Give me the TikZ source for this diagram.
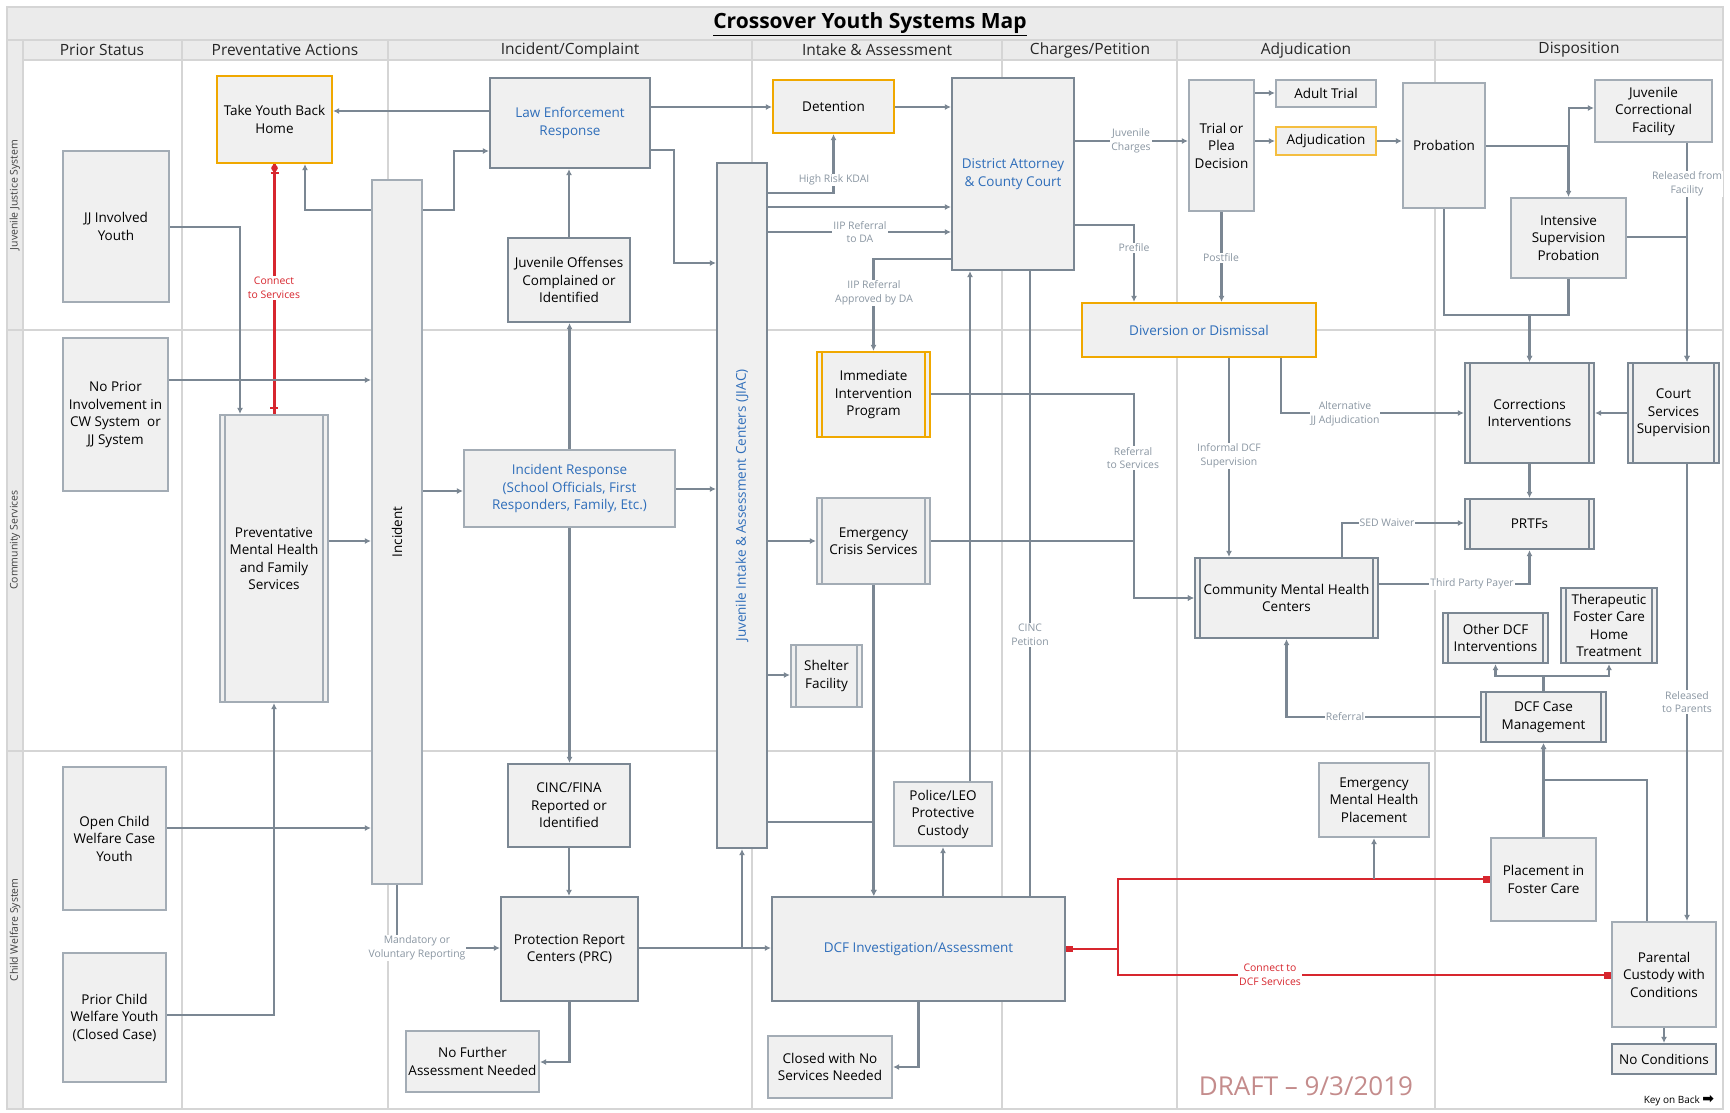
\documentclass[tikz,border=0pt]{standalone}
\usepackage{fontspec}
\setmainfont{Open Sans}
\newfontfamily\symfont{DejaVu Sans}
\usetikzlibrary{arrows.meta}
\definecolor{boxfill}{HTML}{F0F0F0}
\definecolor{headfill}{HTML}{EBEBEB}
\definecolor{dkedge}{HTML}{7B8793}
\definecolor{ltedge}{HTML}{A3ACB5}
\definecolor{orng}{HTML}{F0A800}
\definecolor{bluetxt}{HTML}{2F6EBA}
\definecolor{labgray}{HTML}{8A96A2}
\definecolor{redc}{HTML}{D7262E}
\definecolor{gridc}{HTML}{D5D5D5}
\definecolor{draftc}{HTML}{C48C8C}
\newcommand{\bodyfs}{\fontsize{13.5}{17.5}\selectfont}
\newcommand{\labfs}{\fontsize{10.4}{13.5}\selectfont}
\begin{document}
\begin{tikzpicture}[x=1pt, y=-1pt,
    box/.style={draw=dkedge, line width=2.2pt, fill=boxfill, align=center, inner sep=1pt, font=\bodyfs},
    lbox/.style={box, draw=ltedge},
    obox/.style={box, draw=orng},
    sz/.style 2 args={minimum width=#1, minimum height=#2},
    dbl/.style={path picture={
        \draw[draw=#1, line width=1.8pt]
            ([xshift=5pt]path picture bounding box.north west) -- ([xshift=5pt]path picture bounding box.south west)
            ([xshift=-5pt]path picture bounding box.north east) -- ([xshift=-5pt]path picture bounding box.south east);}},
    dbl/.default=dkedge,
    btxt/.style={text=bluetxt},
    arr/.style={draw=dkedge, line width=2.2pt, -{Latex[length=6pt,width=6pt]}},
    plain/.style={draw=dkedge, line width=2.2pt},
    rline/.style={draw=redc, line width=2.2pt},
    lab/.style={font=\labfs, text=labgray, fill=white, inner sep=1pt, align=center},
    rlab/.style={lab, text=redc},
    laneline/.style={draw=gridc, line width=2.5pt},
    colhead/.style={font=\fontsize{15.5}{18}\selectfont, text=black!85},
    lanelab/.style={font=\fontsize{10.5}{12}\selectfont, text=black!75, rotate=90}]
            \useasboundingbox (0,0) rectangle (1730,1112);

            % frame, title and swimlanes
            \fill[headfill] (7,7) rectangle (1723,60);
            \fill[headfill] (7,60) rectangle (23,1109);
            \draw[laneline] (7,7) rectangle (1723,1109);
            \draw[laneline] (7,40) -- (1723,40);
            \draw[laneline] (23,60) -- (1723,60);
            \draw[laneline] (23,40) -- (23,1109);
            \draw[laneline] (7,330) -- (1723,330);
            \draw[laneline] (7,751) -- (1723,751);
            \foreach \x in {182,388,752,1002,1177,1435}
                \draw[laneline] (\x,40) -- (\x,1109);
            \node [font=\fontsize{21}{25}\selectfont\bfseries] (title) at (870,24) {\underline{Crossover Youth Systems Map}};
            \foreach \cx/\txt in {102/{Prior Status}, 285/{Preventative Actions}, 570/{Incident/Complaint}, 877/{Intake \& Assessment}, 1090/{Charges/Petition}, 1306/{Adjudication}, 1579/{Disposition}}
                \node [colhead] (head-\cx) at (\cx,50) {\txt};
            \node [lanelab] (laneJJ) at (15,195) {Juvenile Justice System};
            \node [lanelab] (laneCS) at (15,540) {Community Services};
            \node [lanelab] (laneCW) at (15,930) {Child Welfare System};

            % juvenile justice lane
            \node [obox, sz={115}{87}] (TYBH) at (274.5,119.5) {Take Youth Back\\Home};
            \node [lbox, sz={106}{151}] (JJY) at (116,226.5) {JJ Involved\\Youth};
            \node [box, btxt, sz={160}{90}] (LE) at (570,123) {Law Enforcement\\Response};
            \node [box, sz={122}{84}] (JO) at (569,280) {Juvenile Offenses\\Complained or\\Identified};
            \node [obox, sz={121}{53}] (DET) at (833.5,106.5) {Detention};
            \node [box, btxt, sz={122}{192}] (DA) at (1013,174) {District Attorney\\\& County Court};
            \node [lbox, sz={65}{131}] (TPD) at (1221.5,145.5) {Trial or\\Plea\\Decision};
            \node [lbox, sz={100}{27}] (ADT) at (1326,93.5) {Adult Trial};
            \node [obox, draw=orng!75, sz={100}{28}] (ADJ) at (1326,141) {Adjudication};
            \node [lbox, sz={82}{125}] (PROB) at (1444,145.5) {Probation};
            \node [lbox, sz={117}{62}] (JCF) at (1653.5,111) {Juvenile\\Correctional\\Facility};
            \node [lbox, sz={115}{80}] (ISP) at (1568.5,238) {Intensive\\Supervision\\Probation};
            \node [obox, btxt, sz={234}{54}] (DIV) at (1199,330) {Diversion or Dismissal};

            % tall bars
            \node [lbox, sz={50}{704}] (INC) at (397,532) {};
            \node [font=\bodyfs, rotate=90] (INClab) at (INC.center) {Incident};
            \node [box, sz={50}{685}] (JIAC) at (742,505.5) {};
            \node [font=\bodyfs, btxt, rotate=90] (JIAClab) at (JIAC.center) {Juvenile Intake \& Assessment Centers (JIAC)};

            % community services lane
            \node [lbox, sz={105}{153}] (NP) at (115.5,414.5) {No Prior\\Involvement in\\CW System ~or\\JJ System};
            \node [lbox, dbl=ltedge, sz={108}{287}] (PMH) at (274,558.5) {Preventative\\Mental Health\\and Family\\Services};
            \node [lbox, btxt, sz={211}{77}] (IR) at (569.5,488.5) {Incident Response\\(School Officials, First\\Responders, Family, Etc.)};
            \node [obox, dbl=orng, sz={113}{85}] (IIP) at (873.5,394.5) {Immediate\\Intervention\\Program};
            \node [lbox, dbl=ltedge, sz={113}{86}] (ECS) at (873.5,541) {Emergency\\Crisis Services};
            \node [lbox, dbl=ltedge, sz={71}{62}] (SHF) at (826.5,676) {Shelter\\Facility};
            \node [box, dbl, sz={183}{80}] (CMHC) at (1286.5,598) {Community Mental Health\\Centers};
            \node [box, dbl, sz={129}{100}] (COR) at (1529.5,413) {Corrections\\Interventions};
            \node [box, dbl, sz={91}{100}] (CSS) at (1673.5,413) {Court\\Services\\Supervision};
            \node [box, dbl, sz={129}{50}] (PRTF) at (1529.5,524) {PRTFs};
            \node [box, dbl, sz={105}{50}] (ODI) at (1495.5,638) {Other DCF\\Interventions};
            \node [box, dbl, sz={96}{75}] (TFC) at (1609,625.5) {Therapeutic\\Foster Care\\Home\\Treatment};
            \node [box, dbl, sz={125}{50}] (DCM) at (1543.5,717) {DCF Case\\Management};

            % child welfare lane
            \node [lbox, sz={103}{143}] (OCW) at (114.5,838.5) {Open Child\\Welfare Case\\Youth};
            \node [lbox, sz={103}{129}] (PCW) at (114.5,1017.5) {Prior Child\\Welfare Youth\\(Closed Case)};
            \node [box, sz={122}{83}] (CINC) at (569,805.5) {CINC/FINA\\Reported or\\Identified};
            \node [box, sz={137}{104}] (PRC) at (569.5,949) {Protection Report\\Centers (PRC)};
            \node [lbox, sz={133}{61}] (NFA) at (472.5,1061.5) {No Further\\Assessment Needed};
            \node [lbox, sz={98}{64}] (POL) at (943,814) {Police/LEO\\Protective\\Custody};
            \node [box, btxt, sz={293}{104}] (DCFI) at (918.5,949) {DCF Investigation/Assessment};
            \node [lbox, sz={124}{62}] (CLS) at (830,1067) {Closed with No\\Services Needed};
            \node [lbox, sz={110}{74}] (EMH) at (1374,800) {Emergency\\Mental Health\\Placement};
            \node [lbox, sz={105}{83}] (PFC) at (1543.5,879.5) {Placement in\\Foster Care};
            \node [lbox, sz={104}{105}] (PCC) at (1664,974.5) {Parental\\Custody with\\Conditions};
            \node [box, sz={104}{30}] (NOC) at (1664,1059) {No Conditions};

            % connectors, juvenile justice
            \draw[arr] (LE.west |- 0,111) -- (TYBH.east |- 0,111);
            \draw[arr] (INC.west |- 0,210) -| (TYBH.south -| 305,0);
            \draw[arr] (INC.east |- 0,210) -| (454,151) -- (LE.west |- 0,151);
            \draw[arr] (LE.east |- 0,107) -- (DET.west |- 0,107);
            \draw[arr] (DET.east |- 0,107) -- (DA.west |- 0,107);
            \draw[arr] (LE.east |- 0,150) -- (674,150) |- (JIAC.west |- 0,263);
            \draw[arr] (JIAC.east |- 0,193) -| (DET.south);
            \draw[arr] (JIAC.east |- 0,207) -- (DA.west |- 0,207);
            \draw[arr] (JIAC.east |- 0,232) -- (DA.west |- 0,232);
            \draw[arr] (DA.west |- 0,259) -| (IIP.north);
            \draw[arr] (DA.east |- 0,141) -- (TPD.west |- 0,141);
            \draw[arr] (DA.east |- 0,225) -| (DIV.north -| 1134,0);
            \draw[arr] (TPD.east |- 0,93) -- (ADT.west |- 0,93);
            \draw[arr] (TPD.east |- 0,141) -- (ADJ.west |- 0,141);
            \draw[arr] (ADJ.east |- 0,141) -- (PROB.west |- 0,141);
            \draw[arr] (TPD.south) -- (TPD.south |- DIV.north);
            \draw[arr] (PROB.east |- 0,146) -- (1569,146) |- (JCF.west |- 0,108);
            \draw[arr] (PROB.east |- 0,146) -| (ISP.north);
            \draw[arr] (JCF.south -| 1687,0) -- (CSS.north -| 1687,0);
            \draw[arr] (ISP.east |- 0,237) -| (CSS.north -| 1687,0);
            \draw[arr] (PROB.south) |- (COR.north |- 0,315) -- (COR.north);
            \draw[arr] (ISP.south) |- (COR.north |- 0,315) -- (COR.north);
            \draw[arr] (JJY.east |- 0,227) -| (PMH.north -| 240,0);
            \draw[rline] (TYBH.south) -- (TYBH.south |- PMH.north);
            \draw[redc, line width=1.5pt] ([yshift=-4pt]TYBH.south) circle (2.5pt);
            \draw[redc, line width=2.5pt] ([xshift=-4pt, yshift=-9pt]TYBH.south) -- ([xshift=4pt, yshift=-9pt]TYBH.south);
            \draw[redc, line width=2.5pt] ([xshift=-4pt, yshift=6pt]PMH.north) -- ([xshift=4pt, yshift=6pt]PMH.north);

            % connectors, community services
            \draw[arr] (NP.east |- 0,380) -- (INC.west |- 0,380);
            \draw[arr] (PMH.east |- 0,541) -- (INC.west |- 0,541);
            \draw[arr] (INC.east |- 0,491) -- (IR.west |- 0,491);
            \draw[arr] (IR.north) -- (IR.north |- JO.south);
            \draw[arr] (JO.north) -- (JO.north |- LE.south);
            \draw[arr] (IR.east |- 0,489) -- (JIAC.west |- 0,489);
            \draw[arr] (IR.south) -- (IR.south |- CINC.north);
            \draw[arr] (JIAC.east |- 0,541) -- (ECS.west |- 0,541);
            \draw[arr] (JIAC.east |- 0,675) -- (SHF.west |- 0,675);
            \draw[arr] (IIP.east |- 0,394) -- (1134,394) |- (CMHC.west |- 0,598);
            \draw[arr] (ECS.east |- 0,541) -- (1134,541) |- (CMHC.west |- 0,598);
            \draw[arr] (DIV.south -| 1229,0) -- (CMHC.north -| 1229,0);
            \draw[arr] (DIV.south -| 1281,0) |- (COR.west |- 0,413);
            \draw[arr] (CSS.west |- 0,413) -- (COR.east |- 0,413);
            \draw[arr] (COR.south) -- (COR.south |- PRTF.north);
            \draw[arr] (CMHC.north -| 1342,0) |- (PRTF.west |- 0,523);
            \draw[arr] (CMHC.east |- 0,584) -| (PRTF.south);
            \draw[arr] (DCM.north) |- (ODI.south |- 0,676) -- (ODI.south);
            \draw[arr] (DCM.north) |- (TFC.south |- 0,676) -- (TFC.south);
            \draw[arr] (DCM.west |- 0,717) -| (CMHC.south);
            \draw[arr] (CSS.south -| 1687,0) -- (PCC.north -| 1687,0);

            % connectors, child welfare
            \draw[arr] (OCW.east |- 0,828) -- (INC.west |- 0,828);
            \draw[arr] (PCW.east |- 0,1015) -| (PMH.south);
            \draw[arr] (CINC.south) -- (CINC.south |- PRC.north);
            \draw[arr] (INC.south) |- (PRC.west |- 0,948);
            \draw[arr] (PRC.south) |- (NFA.east |- 0,1062);
            \draw[arr] (PRC.east |- 0,948) -- (DCFI.west |- 0,948);
            \draw[arr] (PRC.east |- 0,948) -| (JIAC.south);
            \draw[arr] (JIAC.east |- 0,822) -| (DCFI.north -| 874,0);
            \draw[arr] (ECS.south) -- (ECS.south |- DCFI.north);
            \draw[arr] (DCFI.north -| 943,0) -- (POL.south);
            \draw[arr] (POL.north -| 970,0) -- (DA.south -| 970,0);
            \draw[plain] (DCFI.north -| 1030,0) -- (DA.south -| 1030,0);
            \draw[arr] (DCFI.south) |- (CLS.east |- 0,1067);
            \draw[rline, {Square[length=7pt,width=6pt]}-{Square[length=7pt,width=7pt]}] (DCFI.east) -- (1118,949) |- (PFC.west |- 0,879);
            \draw[rline, {Square[length=7pt,width=6pt]}-{Square[length=7pt,width=7pt]}] (DCFI.east) -- (1118,949) |- (PCC.west |- 0,975);
            \draw[arr] (EMH.south |- 0,879) -- (EMH.south);
            \draw[arr] (PFC.north) -- (PFC.north |- DCM.south);
            \draw[arr] (PCC.north -| 1647,0) |- (DCM.south |- 0,780) -- (DCM.south);
            \draw[arr] (PCC.south) -- (NOC.north);

            % connector labels
            \node [lab] (lbKDAI) at (834,180) {High Risk KDAI};
            \node [lab] (lbIIPDA) at (860,232) {IIP Referral\\to DA};
            \node [lab] (lbIIPok) at (874,293) {IIP Referral\\Approved by DA};
            \node [lab] (lbJuv) at (1131,141) {Juvenile\\Charges};
            \node [lab] (lbPre) at (1134,248) {Prefile};
            \node [lab] (lbPost) at (1221,258) {Postfile};
            \node [lab] (lbRelF) at (1687,184) {Released from\\Facility};
            \node [lab] (lbRefS) at (1133,458) {Referral\\to Services};
            \node [lab] (lbInf) at (1229,456) {Informal DCF\\Supervision};
            \node [lab] (lbAlt) at (1345,414) {Alternative\\JJ Adjudication};
            \node [lab] (lbSED) at (1387,523) {SED Waiver};
            \node [lab] (lbTPP) at (1472,584) {Third Party Payer};
            \node [lab] (lbRef) at (1345,717) {Referral};
            \node [lab] (lbRelP) at (1687,702) {Released\\to Parents};
            \node [lab] (lbCINC) at (1030,635) {CINC\\Petition};
            \node [lab] (lbMand) at (417,948) {Mandatory or\\Voluntary Reporting};
            \node [rlab] (lbConn) at (274,288) {Connect\\to Services};
            \node [rlab] (lbDCF) at (1270,975) {Connect to\\DCF Services};

            % footer
            \node [font=\fontsize{26}{30}\selectfont, text=draftc] (draft) at (1306,1086) {DRAFT -- 9/3/2019};
            \node [font=\fontsize{10}{12}\selectfont, inner sep=1pt] (key) at (1679,1101) {Key on Back {\symfont\bfseries\fontsize{14}{14}\selectfont ➡}};
        \end{tikzpicture}
\end{document}
